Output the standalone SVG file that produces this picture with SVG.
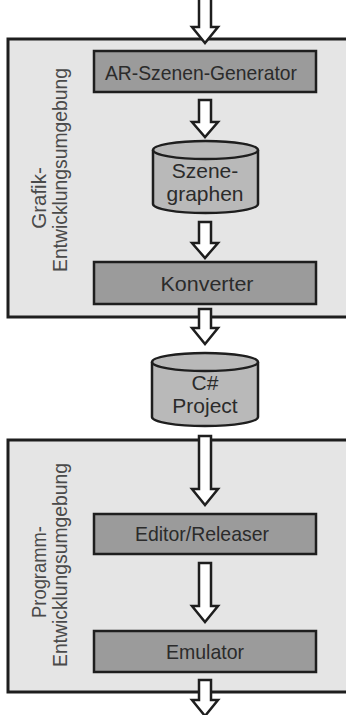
<svg xmlns="http://www.w3.org/2000/svg" width="346" height="715" viewBox="0 0 346 715">
<style>
.env{fill:#e5e5e5;stroke:#1e1e1e;stroke-width:3}
.box{fill:#9b9b9b;stroke:#1e1e1e;stroke-width:2.5}
.cyl{fill:#b9b9b9;stroke:#1e1e1e;stroke-width:2.5}
.arr{fill:#ffffff;stroke:#1e1e1e;stroke-width:2.5;stroke-linejoin:miter}
.t{font-family:"Liberation Sans",Arial,sans-serif;font-size:21px;fill:#2b2b2b;text-anchor:middle}
.v{font-family:"Liberation Sans",Arial,sans-serif;font-size:20.5px;fill:#4a4a4a;text-anchor:middle}
</style>
<rect width="346" height="715" fill="#ffffff"/>
<g id="grafik-env">
<rect class="env" x="8" y="39" width="345" height="278"/>
<text class="v" transform="translate(46,198) rotate(-90)">Grafik-</text>
<text class="v" transform="translate(67,170) rotate(-90)" textLength="204" lengthAdjust="spacingAndGlyphs">Entwicklungsumgebung</text>
</g>
<g id="programm-env">
<rect class="env" x="8" y="440" width="345" height="252"/>
<text class="v" transform="translate(46,572) rotate(-90)" textLength="92" lengthAdjust="spacingAndGlyphs">Programm-</text>
<text class="v" transform="translate(67,565) rotate(-90)" textLength="204" lengthAdjust="spacingAndGlyphs">Entwicklungsumgebung</text>
</g>
<g id="connectors">
<path class="arr" d="M199,-3 L211,-3 L211,27 L218,27 L205,43 L192,27 L199,27 Z"/>
<path class="arr" d="M199,100 L211,100 L211,122 L218,122 L205,137 L192,122 L199,122 Z"/>
<path class="arr" d="M199,222 L211,222 L211,243 L218,243 L205,258 L192,243 L199,243 Z"/>
<path class="arr" d="M199,309 L211,309 L211,328 L218,328 L205,344 L192,328 L199,328 Z"/>
<path class="arr" d="M199,436 L211,436 L211,489 L218,489 L205,505 L192,489 L199,489 Z"/>
<path class="arr" d="M199,563 L211,563 L211,606 L218,606 L205,622 L192,606 L199,606 Z"/>
<path class="arr" d="M199,680 L211,680 L211,700 L218,700 L205,716 L192,700 L199,700 Z"/>
</g>
<g id="ar-generator">
<rect class="box" x="94" y="51" width="222" height="41"/>
<text class="t" x="201" y="80" textLength="192" lengthAdjust="spacingAndGlyphs">AR-Szenen-Generator</text>
</g>
<g id="szenegraphen">
<path class="cyl" d="M153,150 L153,204 A52.5,9 0 0 0 258,204 L258,150 A52.5,9 0 0 0 153,150 Z"/>
<path class="cyl" fill="none" d="M153,150 A52.5,9 0 0 0 258,150"/>
<text class="t" x="205" y="178">Szene-</text>
<text class="t" x="205" y="201">graphen</text>
</g>
<g id="konverter">
<rect class="box" x="94" y="262" width="222" height="42"/>
<text class="t" x="207" y="291" textLength="93" lengthAdjust="spacingAndGlyphs">Konverter</text>
</g>
<g id="csharp-project">
<path class="cyl" d="M152,362 L152,417 A53,9 0 0 0 258,417 L258,362 A53,9 0 0 0 152,362 Z"/>
<path class="cyl" fill="none" d="M152,362 A53,9 0 0 0 258,362"/>
<text class="t" x="205" y="390">C#</text>
<text class="t" x="205" y="413">Project</text>
</g>
<g id="editor-releaser">
<rect class="box" x="94" y="514" width="222" height="40"/>
<text class="t" x="202" y="541" textLength="134" lengthAdjust="spacingAndGlyphs">Editor/Releaser</text>
</g>
<g id="emulator">
<rect class="box" x="94" y="631" width="222" height="41"/>
<text class="t" x="205" y="659" textLength="78" lengthAdjust="spacingAndGlyphs">Emulator</text>
</g>
</svg>
